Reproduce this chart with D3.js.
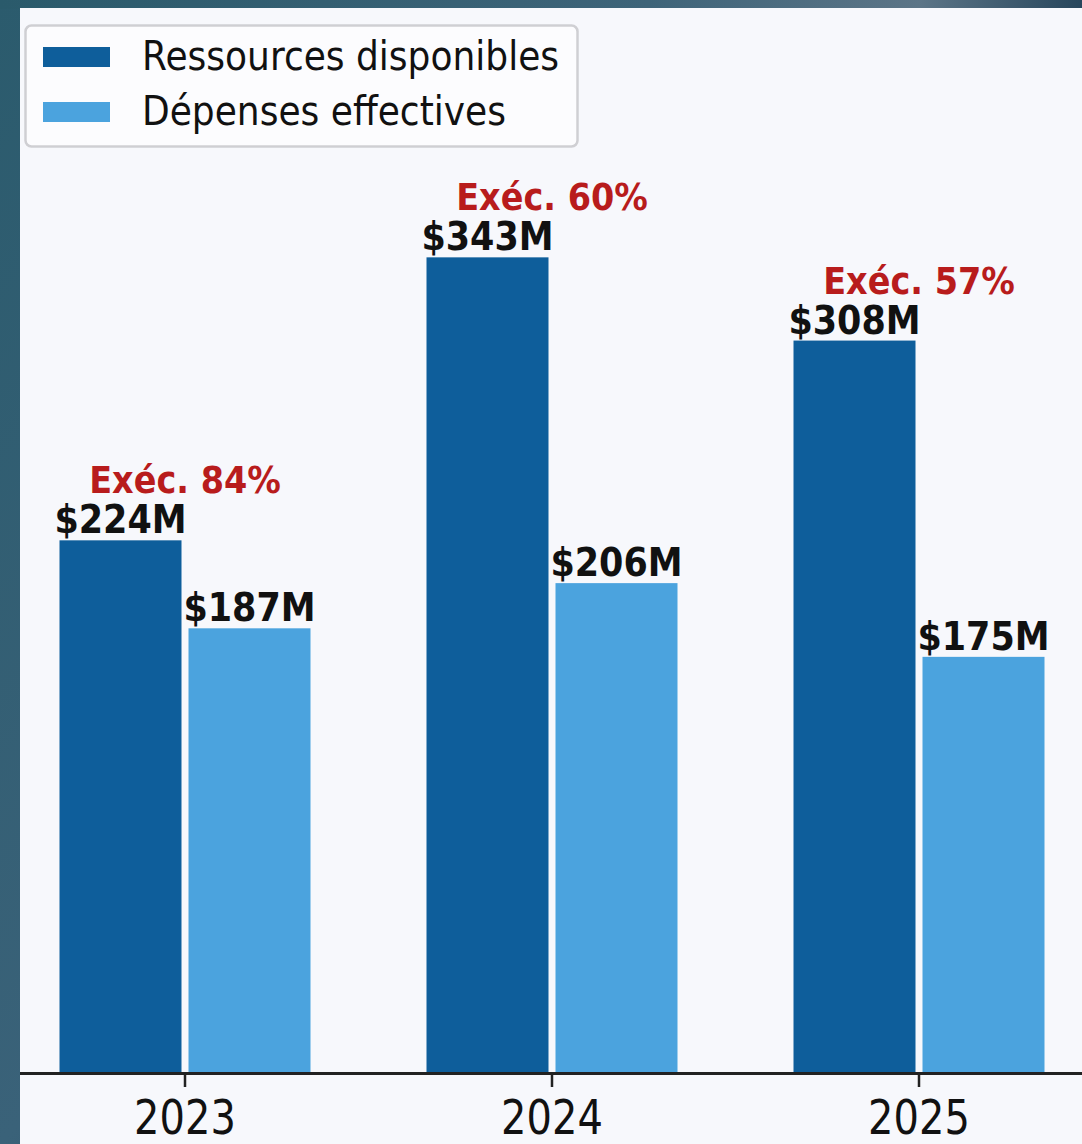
<!DOCTYPE html>
<html><head><meta charset="utf-8">
<script src="https://cdn.jsdelivr.net/npm/d3@7"></script>
<style>html,body{margin:0;padding:0;background:#24485a;}svg{display:block;}</style>
</head><body>
<script>
const years = ["2023", "2024", "2025"];
const ressources = [224, 343, 308];
const depenses = [187, 206, 175];
const execRates = [84, 60, 57];
const seriesNames = ["Ressources disponibles", "Dépenses effectives"];
const seriesColors = ["#0e5e9b", "#4ba3de"];

const W = 1082, H = 1144;
const svg = d3.select("body").append("svg").attr("width", W).attr("height", H);
const defs = svg.append("defs");
const g1 = defs.append("linearGradient").attr("id","bg").attr("x1","0").attr("y1","0").attr("x2","1").attr("y2","1");
g1.append("stop").attr("offset","0").attr("stop-color","#2b5b6d");
g1.append("stop").attr("offset","0.5").attr("stop-color","#3a6279");
g1.append("stop").attr("offset","1").attr("stop-color","#1c3850");
svg.append("rect").attr("width",W).attr("height",H).attr("fill","url(#bg)");
const g2 = defs.append("linearGradient").attr("id","topbg").attr("x1","0").attr("y1","0").attr("x2","1").attr("y2","0");
g2.append("stop").attr("offset","0").attr("stop-color","#2a5a6b");
g2.append("stop").attr("offset","0.6").attr("stop-color","#3e6479");
g2.append("stop").attr("offset","0.85").attr("stop-color","#5c7587");
g2.append("stop").attr("offset","1").attr("stop-color","#27465c");
svg.append("rect").attr("width",W).attr("height",9).attr("fill","url(#topbg)");

// panel
svg.append("rect").attr("x",20).attr("y",8).attr("width",W-20).attr("height",H-8).attr("fill","#f7f8fc");

const y0 = 1073;
const x = d3.scaleBand().domain(years).range([1.5, 1102.5]).padding(0);
const y = d3.scaleLinear().domain([0, 380]).range([y0, y0 - 380*2.378]);
const bw = 122, gap = 3.5;

const font = "'DejaVu Sans', sans-serif";
function stext(sel, tx, ty, sy) {
  return sel.attr("transform", `translate(${tx},${ty}) scale(1,${sy})`);
}

years.forEach((yr, i) => {
  const c = x(yr) + x.bandwidth()/2;
  // bars
  svg.append("rect").attr("x", c - gap - bw).attr("y", y(ressources[i])).attr("width", bw)
    .attr("height", y(0) - y(ressources[i])).attr("fill", seriesColors[0]);
  svg.append("rect").attr("x", c + gap).attr("y", y(depenses[i])).attr("width", bw)
    .attr("height", y(0) - y(depenses[i])).attr("fill", seriesColors[1]);
  // value labels
  stext(svg.append("text"), c - gap - bw/2, y(ressources[i]) - 7, 1.1)
    .attr("text-anchor","middle").attr("font-family",font).attr("font-weight","bold")
    .attr("font-size",35).attr("fill","#111").text(`$${ressources[i]}M`);
  stext(svg.append("text"), c + gap + bw/2, y(depenses[i]) - 7, 1.1)
    .attr("text-anchor","middle").attr("font-family",font).attr("font-weight","bold")
    .attr("font-size",35).attr("fill","#111").text(`$${depenses[i]}M`);
  // exec rate
  stext(svg.append("text"), c, y(ressources[i]) - 47, 1.1)
    .attr("text-anchor","middle").attr("font-family",font).attr("font-weight","bold")
    .attr("font-size",33.5).attr("fill","#b81c1c").text(`Exéc. ${execRates[i]}%`);
});

// axis
const axis = svg.append("g").attr("transform", `translate(0,${y0})`)
  .call(d3.axisBottom(x).tickSize(14).tickPadding(16).tickSizeOuter(0));
axis.select(".domain").attr("stroke","#222").attr("stroke-width",3).attr("d", `M20,0.5H${W}`);
axis.selectAll(".tick line").attr("stroke","#222").attr("stroke-width",2.5);
axis.selectAll(".tick text").attr("font-family",font).attr("font-size",40).attr("fill","#111")
  .attr("dy", null).attr("y", 0)
  .attr("transform", "translate(0,61) scale(1,1.2)");

// legend
const lg = svg.append("g");
lg.append("rect").attr("x",25.5).attr("y",25.5).attr("width",552).attr("height",121).attr("rx",6)
  .attr("fill","#fcfcfe").attr("stroke","#cfcfd3").attr("stroke-width",2.5);
seriesNames.forEach((n, i) => {
  const cy = 57 + i*55;
  lg.append("rect").attr("x",43).attr("y",cy-10).attr("width",67).attr("height",20).attr("fill",seriesColors[i]);
  stext(lg.append("text"), 142, cy + 13, 1.13).attr("font-family",font).attr("font-size",36)
    .attr("fill","#111").text(n);
});
</script>
</body></html>
